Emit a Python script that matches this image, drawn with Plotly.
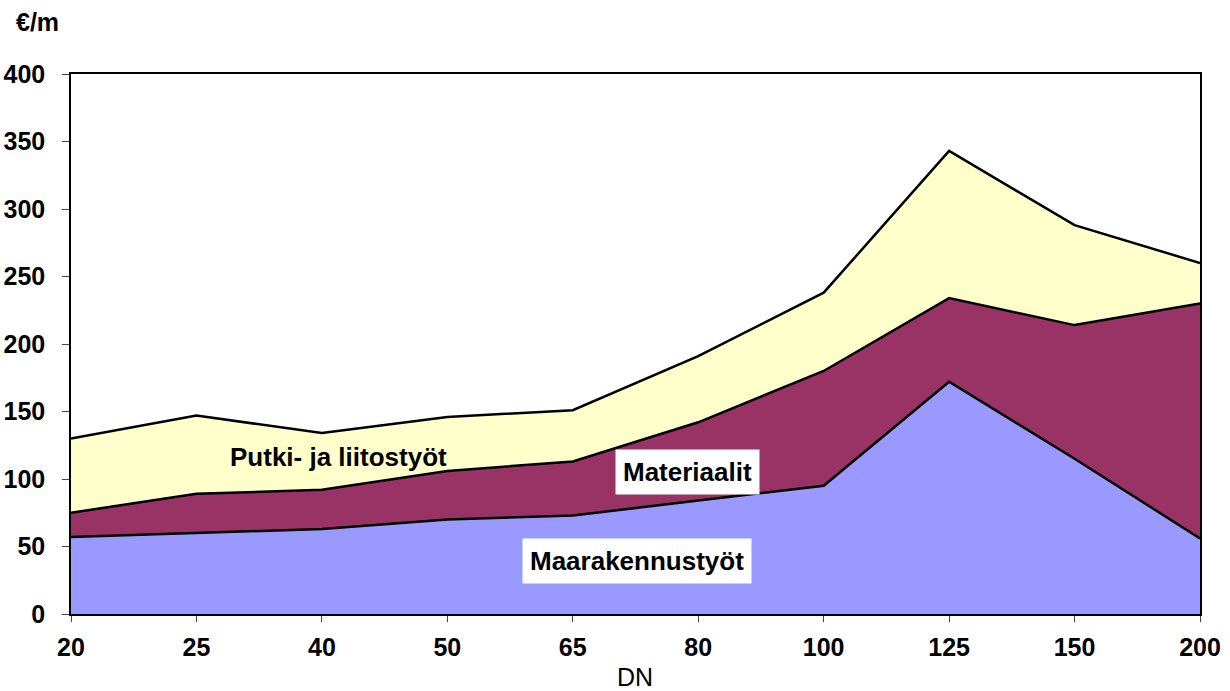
import plotly.graph_objects as go

categories = ["20", "25", "40", "50", "65", "80", "100", "125", "150", "200"]
maarakennus = [57, 60, 63, 70, 73, 84, 95, 172, 115, 56]
materiaalit = [18, 29, 29, 36, 40, 58, 85, 62, 99, 174]
putki = [55, 58, 42, 40, 38, 49, 58, 109, 74, 30]
y_ticks = [0, 50, 100, 150, 200, 250, 300, 350, 400]

xpos = list(range(len(categories)))
FONT = "Liberation Sans, Arial, sans-serif"

fig = go.Figure()
series = [
    ("Maarakennustyöt", maarakennus, "#9999FF"),
    ("Materiaalit", materiaalit, "#993366"),
    ("Putki- ja liitostyöt", putki, "#FFFFCC"),
]
for name, vals, col in series:
    fig.add_trace(go.Scatter(
        x=xpos, y=vals, name=name, mode="lines", stackgroup="one",
        fillcolor=col, line=dict(color="black", width=2.5),
        hoverinfo="x+y+name",
    ))

fig.update_layout(
    width=1230, height=691,
    margin=dict(l=71, r=30, t=74, b=77, autoexpand=False),
    plot_bgcolor="white", paper_bgcolor="white",
    showlegend=False,
    font=dict(family=FONT, size=25, color="black"),
)
fig.update_xaxes(
    range=[0, len(categories) - 1], automargin=False,
    tickmode="array", tickvals=xpos, ticktext=[f"<b>{c}</b>" for c in categories],
    ticks="outside", ticklen=6, tickcolor="#444", tickwidth=1,
    showline=True, linecolor="black", linewidth=2, mirror=True,
    showgrid=False, zeroline=False,
    tickfont=dict(size=25), ticklabelstandoff=4,
)
fig.update_yaxes(
    range=[0, 400], automargin=False,
    tickmode="array", tickvals=y_ticks, ticktext=[f"<b>{v}</b>" for v in y_ticks],
    ticks="outside", ticklen=7, tickcolor="#444", tickwidth=1,
    showline=True, linecolor="black", linewidth=1.5, mirror=True,
    showgrid=False, zeroline=False,
    tickfont=dict(size=25), ticklabelstandoff=12,
)

fig.add_annotation(text="<b>€/m</b>", xref="paper", yref="paper",
                   x=-0.030, y=1.096, showarrow=False, font=dict(size=25),
                   xanchor="center", yanchor="middle")
fig.add_annotation(text="DN", xref="paper", yref="paper",
                   x=0.4996, y=-0.1167, showarrow=False, font=dict(size=25),
                   xanchor="center", yanchor="middle")
fig.add_annotation(text="<b>Putki- ja liitostyöt</b>", x=2.13, y=116.5,
                   showarrow=False, font=dict(size=26))
fig.add_annotation(text="<b>Materiaalit</b>", x=4.913, y=105.2,
                   showarrow=False, font=dict(size=26), bgcolor="white", borderpad=7)
fig.add_annotation(text="<b>Maarakennustyöt</b>", x=4.508, y=38.9,
                   showarrow=False, font=dict(size=26), bgcolor="white", borderpad=7)

fig.write_html("out.html",
               config={"displayModeBar": False},
               post_script="document.body.style.margin='0';document.body.style.overflow='hidden';")
